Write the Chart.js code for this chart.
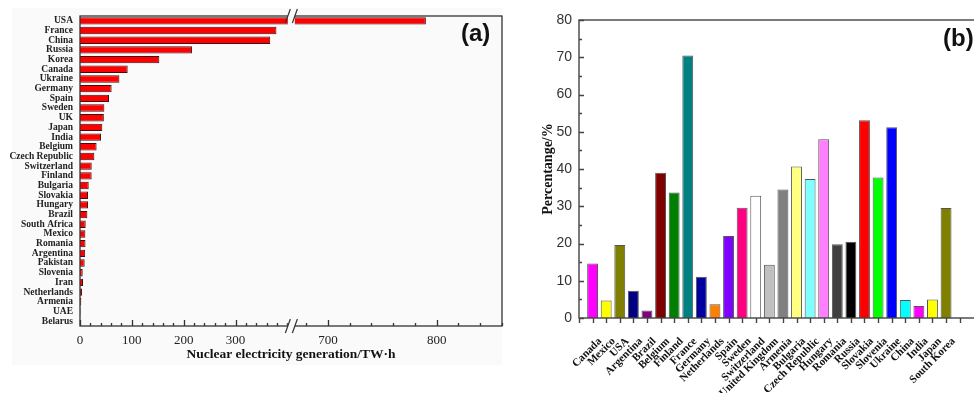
<!DOCTYPE html>
<html><head><meta charset="utf-8">
<script src="https://cdn.jsdelivr.net/npm/chart.js@4"></script>
<style>
html,body{margin:0;padding:0;width:974px;height:393px;overflow:hidden;background:#fff;position:relative}
#bgA{position:absolute;left:12px;top:8px;width:490px;height:357px;background:#fafafa}
#wa{position:absolute;left:0;top:0;width:510px;height:393px}
#wb{position:absolute;left:510px;top:0;width:470px;height:393px}
.lab{position:absolute;font-family:'Liberation Sans',Arial,sans-serif;font-weight:bold;font-size:24px;color:#111;line-height:28px}
</style></head><body>
<div id="bgA"></div>
<div id="wa"><canvas id="ca" width="510" height="393"></canvas></div>
<div id="wb"><canvas id="cb" width="470" height="393"></canvas></div>
<div class="lab" style="left:461px;top:19px">(a)</div>
<div class="lab" style="left:943px;top:24px">(b)</div>
<script>
// ---------- Panel (a) data ----------
const countriesA = ['USA','France','China','Russia','Korea','Canada','Ukraine','Germany','Spain','Sweden','UK','Japan','India','Belgium','Czech Republic','Switzerland','Finland','Bulgaria','Slovakia','Hungary','Brazil','South Africa','Mexico','Romania','Argentina','Pakistan','Slovenia','Iran','Netherlands','Armenia','UAE','Belarus'];
const generationTWh = [790,379,367,216,153,92,76,61,56,47,46,43,40.6,32,27.7,22.6,22.5,16.8,15.5,15.5,14.2,11,10.3,10.6,10,9,5.2,5.8,4,2.5,1,0];
const majorTicksA = [0,100,200,300,700,800];
const minorTicksA = [20,40,60,80,120,140,160,180,220,240,260,280,320,340,360,380,400,680,720,740,760,780,820,840,860];
const axisMaxA = 860;
// axis break: 400 .. 670 removed, upper segment stretched
const breakLow = 400, breakHigh = 670, breakGap = 15.5, breakStretch = 2.098;
function toAxis(v){ return v <= breakLow ? v : breakLow + breakGap + (Math.max(v,breakHigh)-breakHigh)*breakStretch; }

// ---------- Panel (b) data ----------
const countriesB = ['Canada','Mexico','USA','Argentina','Brazil','Belgium','Finland','France','Germany','Netherlands','Spain','Sweden','Switzerland','United Kingdom','Armenia','Bulgaria','Czech Republic','Hungary','Romania','Russia','Slovakia','Slovenia','Ukraine','China','India','Japan','South Korea'];
const sharePercent = [14.6,4.7,19.6,7.3,2.0,39.0,33.7,70.5,11.1,3.7,22.0,29.6,32.8,14.3,34.5,40.7,37.3,48.0,19.8,20.5,53.1,37.7,51.2,4.8,3.2,5.0,29.5];
const barColorsB = ['#FF00FF','#FFFF00','#808000','#000080','#800080','#800000','#008000','#008080','#0000A0','#FF8000','#8000FF','#FF0080','#FFFFFF','#C0C0C0','#808080','#FFFF80','#80FFFF','#FF80FF','#404040','#000000','#FF0000','#00FF00','#0000FF','#00FFFF','#FF00FF','#FFFF00','#808000'];
const yTicksB = [0,5,10,15,20,25,30,35,40,45,50,55,60,65,70,75,80];
const labelShiftB = 0.55; // rotated labels sit slightly right of their tick

// ---------- Panel (a) chart ----------
const ticksA = majorTicksA.concat(minorTicksA).sort((a,b)=>a-b);
const plugA = {
  id:'plugA',
  afterDraw(chart){
    const ctx = chart.ctx, a = chart.chartArea, xs = chart.scales.x;
    ctx.save();
    ctx.strokeStyle = '#333'; ctx.lineWidth = 1.3;
    ctx.strokeRect(a.left, a.top, a.right-a.left, a.bottom-a.top);
    ctx.beginPath();
    ticksA.forEach(v=>{
      const px = Math.round(xs.getPixelForValue(toAxis(v)))+0.5;
      const len = majorTicksA.includes(v) ? 6 : 3;
      ctx.moveTo(px, a.bottom); ctx.lineTo(px, a.bottom-len);
    });
    ctx.stroke();
    // break strip
    const x1 = xs.getPixelForValue(toAxis(breakLow)), x2 = xs.getPixelForValue(toAxis(breakHigh));
    ctx.fillStyle = '#fafafa';
    ctx.fillRect(x1+0.5, a.top-3, x2-x1-1, a.bottom-a.top+6);
    ctx.strokeStyle = '#333'; ctx.lineWidth = 1.2;
    [a.top, a.bottom].forEach(y=>{
      ctx.beginPath();
      ctx.moveTo(x1-2, y+7); ctx.lineTo(x1+3, y-7);
      ctx.moveTo(x2-3, y+7); ctx.lineTo(x2+2, y-7);
      ctx.stroke();
    });
    ctx.restore();
  }
};
new Chart(document.getElementById('ca'), {
  type:'bar',
  data:{ labels: countriesA, datasets:[{ data: generationTWh.map(toAxis), backgroundColor:'#ff0000', borderColor:'#3a1010', borderWidth:1, barPercentage:0.76, categoryPercentage:1 }] },
  options:{
    indexAxis:'y', responsive:false, animation:false, devicePixelRatio:1,
    layout:{ padding:{ top:16, right:8, left:0, bottom:0 } },
    plugins:{ legend:{display:false}, tooltip:{enabled:false} },
    scales:{
      x:{ type:'linear', min:0, max:toAxis(axisMaxA), offset:false,
        grid:{display:false, drawTicks:false}, border:{display:false},
        afterBuildTicks: s => { s.ticks = ticksA.map(v=>({value:toAxis(v)})); },
        ticks:{ autoSkip:false, maxRotation:0, minRotation:0, padding:7, color:'#222',
          font:{ family:'Liberation Serif', size:13 },
          callback:(val,i)=> majorTicksA.includes(ticksA[i]) ? String(ticksA[i]) : '' },
        title:{ display:true, text:'Nuclear electricity generation/TW·h', color:'#111',
          font:{ family:'Liberation Serif', size:13.5, weight:'bold' }, padding:{top:0,bottom:30} },
        afterFit: s => { s.height = 67; }
      },
      y:{ offset:true, grid:{display:false, drawTicks:false}, border:{display:false},
        ticks:{ autoSkip:false, padding:7, color:'#222', font:{ family:'Liberation Serif', size:9.5, weight:'bold' } },
        afterFit: s => { s.width = 80; }
      }
    }
  },
  plugins:[plugA]
});

// ---------- Panel (b) chart ----------
const plugB = {
  id:'plugB',
  afterDraw(chart){
    const ctx = chart.ctx, a = chart.chartArea, xs = chart.scales.x, ys = chart.scales.y;
    ctx.save();
    ctx.strokeStyle = '#444'; ctx.lineWidth = 1.4;
    ctx.strokeRect(a.left, a.top, a.right-a.left+20, a.bottom-a.top);
    ctx.beginPath();
    yTicksB.forEach(v=>{
      const py = Math.round(ys.getPixelForValue(v))+0.5;
      const len = v % 10 === 0 ? 5 : 3;
      ctx.moveTo(a.left, py); ctx.lineTo(a.left+len, py);
    });
    for (let i=0;i<=countriesB.length+1;i++){
      const px = Math.round(xs.getPixelForValue(i))+0.5;
      ctx.moveTo(px, a.bottom); ctx.lineTo(px, a.bottom+5);
    }
    ctx.stroke();
    ctx.restore();
  }
};
new Chart(document.getElementById('cb'), {
  type:'bar',
  data:{ datasets:[{ data: sharePercent.map((v,i)=>({x:i+1, y:v})), backgroundColor: barColorsB, borderColor:'#555', borderWidth:1, barPercentage:0.8, categoryPercentage:1 }] },
  options:{
    responsive:false, animation:false, devicePixelRatio:1,
    layout:{ padding:{ top:20, right:4, left:0, bottom:0 } },
    plugins:{ legend:{display:false}, tooltip:{enabled:false} },
    scales:{
      x:{ type:'linear', min:0, max:28.5, offset:false,
        grid:{display:false, drawTicks:false}, border:{display:false},
        afterBuildTicks: s => { s.ticks = countriesB.map((_,i)=>({value:i+1+labelShiftB})); },
        ticks:{ autoSkip:false, minRotation:45, maxRotation:45, padding:17, color:'#111',
          font:{ family:'Liberation Serif', size:11, weight:'bold' },
          callback:(val,i)=> countriesB[i] || '' },
        afterFit: s => { s.height = 75; }
      },
      y:{ min:0, max:80, grid:{display:false, drawTicks:false}, border:{display:false},
        afterBuildTicks: s => { s.ticks = yTicksB.map(v=>({value:v})); },
        ticks:{ autoSkip:false, padding:7, color:'#333', font:{ family:'Liberation Sans', size:14 },
          callback:(val)=> val % 10 === 0 ? String(val) : '' },
        title:{ display:true, text:'Percentange/%', color:'#111',
          font:{ family:'Liberation Serif', size:14, weight:'bold' }, padding:{top:30,bottom:0} },
        afterFit: s => { s.width = 69; }
      }
    }
  },
  plugins:[plugB]
});
</script>
</body></html>
